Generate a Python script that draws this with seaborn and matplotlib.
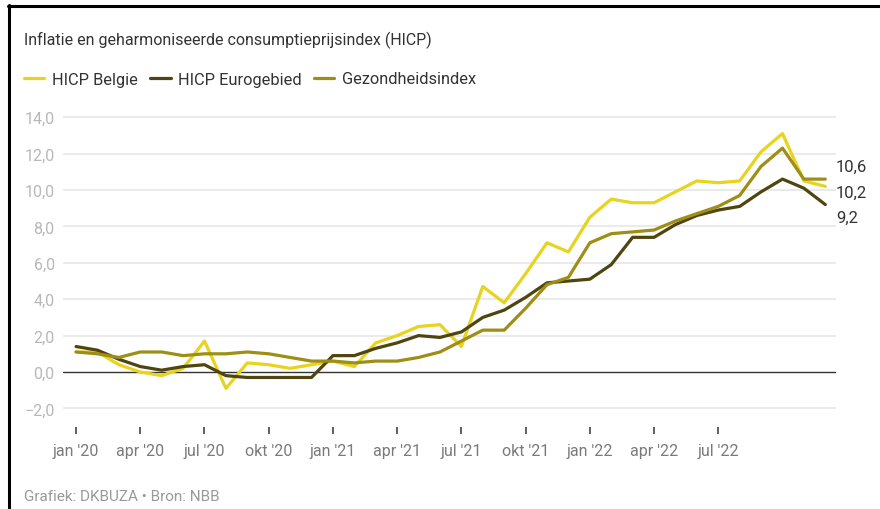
import matplotlib.pyplot as plt
import numpy as np
import pandas as pd
import seaborn as sns
from matplotlib.lines import Line2D

# monthly values, jan 2020 - dec 2022
months = pd.date_range("2020-01-01", periods=36, freq="MS")

hicp_belgie = [1.1, 1.1, 0.4, 0.0, -0.2, 0.2, 1.7, -0.9, 0.5, 0.4, 0.2, 0.4,
               0.6, 0.3, 1.6, 2.0, 2.5, 2.6, 1.4, 4.7, 3.8, 5.4, 7.1, 6.6,
               8.5, 9.5, 9.3, 9.3, 9.9, 10.5, 10.4, 10.5, 12.1, 13.1, 10.5, 10.2]
hicp_euro = [1.4, 1.2, 0.7, 0.3, 0.1, 0.3, 0.4, -0.2, -0.3, -0.3, -0.3, -0.3,
             0.9, 0.9, 1.3, 1.6, 2.0, 1.9, 2.2, 3.0, 3.4, 4.1, 4.9, 5.0,
             5.1, 5.9, 7.4, 7.4, 8.1, 8.6, 8.9, 9.1, 9.9, 10.6, 10.1, 9.2]
gezondheid = [1.1, 1.0, 0.8, 1.1, 1.1, 0.9, 1.0, 1.0, 1.1, 1.0, 0.8, 0.6,
              0.6, 0.5, 0.6, 0.6, 0.8, 1.1, 1.7, 2.3, 2.3, 3.5, 4.8, 5.2,
              7.1, 7.6, 7.7, 7.8, 8.3, 8.7, 9.1, 9.7, 11.3, 12.3, 10.6, 10.6]

series_names = ["HICP Belgie", "HICP Eurogebied", "Gezondheidsindex"]
colors = {"HICP Belgie": "#e8d31e",
          "HICP Eurogebied": "#4f4510",
          "Gezondheidsindex": "#9e8e14"}

tick_pos = [0, 3, 6, 9, 12, 15, 18, 21, 24, 27, 30]
tick_labels = ["jan '20", "apr '20", "jul '20", "okt '20", "jan '21", "apr '21",
               "jul '21", "okt '21", "jan '22", "apr '22", "jul '22"]
y_ticks = [-2, 0, 2, 4, 6, 8, 10, 12, 14]

df = pd.DataFrame({"maand": months, "HICP Belgie": hicp_belgie,
                   "HICP Eurogebied": hicp_euro, "Gezondheidsindex": gezondheid})
df["pos"] = np.arange(len(df))
long = df.melt(id_vars=["maand", "pos"], value_vars=series_names,
               var_name="reeks", value_name="waarde")

sns.set_style("white")
plt.rcParams["font.family"] = ["Roboto", "DejaVu Sans"]

fig = plt.figure(figsize=(8.8, 5.1), dpi=100)
ax = fig.add_axes([63 / 880, 1 - 427.6 / 510, 773 / 880, 320.3 / 510])

for v in y_ticks:
    if v != 0:
        ax.axhline(v, color="#e8e8e8", lw=1.3, zorder=0)
ax.axhline(0, color="#333333", lw=1.0, zorder=1)

sns.lineplot(data=long, x="pos", y="waarde", hue="reeks", hue_order=series_names,
             palette=colors, linewidth=2.3, legend=False, ax=ax, zorder=3)

ax.set_xlim(-0.61, 35.5)
ax.set_ylim(-3.0, 14.6)
ax.set_xlabel("")
ax.set_ylabel("")
for s in ax.spines.values():
    s.set_visible(False)

ax.set_yticks(y_ticks)
ax.set_yticklabels([f"{v:.1f}".replace(".", ",").replace("-", "\u2212") for v in y_ticks])
ax.tick_params(axis="y", length=0, pad=6, labelsize=11.5, labelcolor="#b8b8b8")
ax.set_xticks(tick_pos)
ax.set_xticklabels(tick_labels)
ax.tick_params(axis="x", direction="out", length=5, width=1.1, color="#333333",
               pad=7, labelsize=11.5, labelcolor="#7a7a7a", bottom=True)

# end labels, spread so they do not overlap
last = sorted([(df[n].iloc[-1], n) for n in series_names], reverse=True)
gap = 1.4
mean = np.mean([v for v, _ in last])
for k, (v, n) in enumerate(last):
    ypos = mean + ((len(last) - 1) / 2 - k) * gap - 0.12
    ax.text(35.5, ypos, f"{v:.1f}".replace(".", ","), ha="left", va="center",
            fontsize=12, color="#333333", clip_on=False)

fig.text(24 / 880, 1 - 40 / 510, "Inflatie en geharmoniseerde consumptieprijsindex (HICP)",
         fontsize=11.5, color="#333333", va="center")

handles = [Line2D([], [], color=colors[n], lw=2.3) for n in series_names]
fig.legend(handles, series_names, loc="center left", bbox_to_anchor=(24 / 880, 1 - 80 / 510),
           ncol=3, frameon=False, fontsize=11.8, handlelength=1.25, handletextpad=0.45,
           columnspacing=0.75, borderaxespad=0, borderpad=0, labelcolor="#333333")

fig.text(24 / 880, 1 - 497 / 510, "Grafiek: DKBUZA \u2022 Bron: NBB",
         fontsize=11, color="#999999", va="center")

# frame lines top and left
fig.add_artist(Line2D([9 / 880, 9 / 880], [0, 1 - 6 / 510], color="black", lw=2.2))
fig.add_artist(Line2D([8 / 880, 1], [1 - 7 / 510, 1 - 7 / 510], color="black", lw=2.2))

fig.savefig("out.png", dpi=100, facecolor="white")
